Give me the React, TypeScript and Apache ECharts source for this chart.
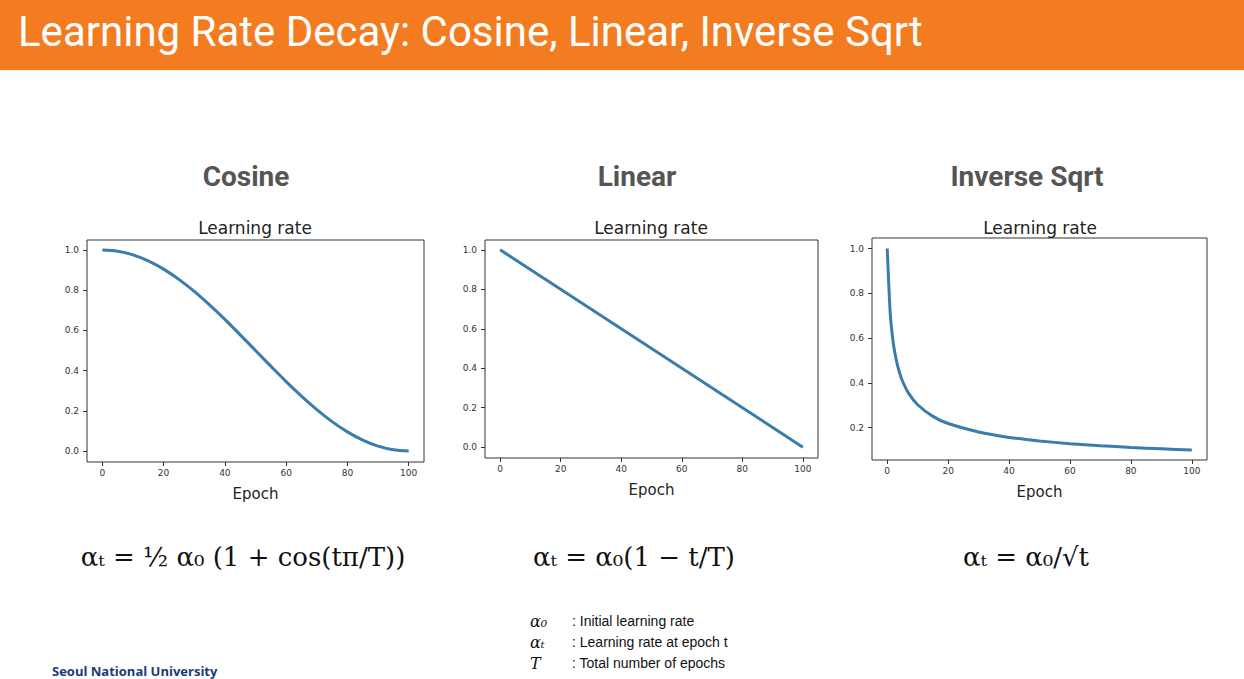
import React, { useRef, useEffect } from 'react'
import * as echarts from 'echarts'

const cosineEpochs = [0, 5, 10, 15, 20, 25, 30, 35, 40, 45, 50, 55, 60, 65, 70, 75, 80, 85, 90, 95, 100]
const cosineValues = [1, 0.994, 0.976, 0.946, 0.905, 0.854, 0.794, 0.727, 0.655, 0.578, 0.5, 0.422, 0.345, 0.273, 0.206, 0.146, 0.095, 0.054, 0.024, 0.006, 0]
const linearEpochs = [0, 100]
const linearValues = [1, 0]
const sqrtEpochs = [0, 1, 2, 3, 4, 5, 7, 10, 15, 20, 30, 40, 50, 60, 70, 80, 90, 100]
const sqrtValues = [1, 0.707, 0.577, 0.5, 0.447, 0.408, 0.354, 0.302, 0.25, 0.218, 0.18, 0.156, 0.14, 0.128, 0.119, 0.111, 0.105, 0.0995]
const xTicks = [0, 20, 40, 60, 80, 100]
const yTicksFull = [0, 0.2, 0.4, 0.6, 0.8, 1.0]
const yTicksSqrt = [0.2, 0.4, 0.6, 0.8, 1.0]
const panelTitles = ['Cosine', 'Linear', 'Inverse Sqrt']

const grids = [
  { left: 87, top: 240, width: 337, height: 222 },
  { left: 485, top: 240, width: 333, height: 218 },
  { left: 872, top: 238, width: 335, height: 222 },
]
const yRanges = [
  [-0.055, 1.05],
  [-0.055, 1.05],
  [0.055, 1.047],
]

const App: React.FC = () => {
  const ref = useRef<HTMLDivElement>(null)

  useEffect(() => {
    document.body.style.margin = '0'
    if (!ref.current) return
    const chart = echarts.init(ref.current, null, { renderer: 'svg' })
    const font = 'DejaVu Sans'
    const lineColor = '#3a7cab'

    const xAxis = grids.map((_, i) => ({
      type: 'value' as const,
      gridIndex: i,
      min: -5,
      max: 105,
      axisLine: { show: false, onZero: false },
      splitLine: { show: false },
      axisTick: { show: true, customValues: xTicks, length: 4, lineStyle: { color: '#333' } },
      axisLabel: { customValues: xTicks, fontSize: 9, color: '#333', fontFamily: font, margin: 6 },
      name: 'Epoch',
      nameLocation: 'middle' as const,
      nameGap: 24,
      nameTextStyle: { fontSize: 15, color: '#222', fontFamily: font },
    }))
    const yAxis = grids.map((_, i) => {
      const ticks = i === 2 ? yTicksSqrt : yTicksFull
      return {
        type: 'value' as const,
        gridIndex: i,
        min: yRanges[i][0],
        max: yRanges[i][1],
        axisLine: { show: false, onZero: false },
        splitLine: { show: false },
        axisTick: { show: true, customValues: ticks, length: 4, lineStyle: { color: '#333' } },
        axisLabel: {
          customValues: ticks,
          fontSize: 9,
          color: '#333',
          fontFamily: font,
          margin: 8,
          formatter: (v: number) => v.toFixed(1),
        },
      }
    })
    const mk = (xs: number[], ys: number[], i: number) => ({
      type: 'line' as const,
      xAxisIndex: i,
      yAxisIndex: i,
      data: xs.map((x, k) => [x, ys[k]]),
      smooth: i === 0 ? 0.3 : i === 2 ? 0.2 : false,
      showSymbol: false,
      lineStyle: { color: lineColor, width: 3 },
    })

    const centers = [255, 651, 1040]
    const graphic: any[] = [
      { type: 'rect', shape: { x: 0, y: 0, width: 1244, height: 70 }, style: { fill: '#f47c20' } },
      {
        type: 'text', left: 18, top: 10,
        style: { text: 'Learning Rate Decay: Cosine, Linear, Inverse Sqrt', fill: '#fff', fontSize: 42, fontFamily: 'Roboto' },
      },
    ]
    panelTitles.forEach((t, i) => {
      graphic.push({
        type: 'text', x: [246, 637, 1027][i], y: 176,
        style: { text: t, fill: '#555', fontSize: 28, fontWeight: 'bold', fontFamily: 'Roboto', align: 'center', verticalAlign: 'middle' },
      })
      graphic.push({
        type: 'text', x: centers[i], y: 228,
        style: { text: 'Learning rate', fill: '#222', fontSize: 17, fontFamily: font, align: 'center', verticalAlign: 'middle' },
      })
    })
    const formulas = ['αₜ = ½ α₀ (1 + cos(tπ/T))', 'αₜ = α₀(1 − t/T)', 'αₜ = α₀/√t']
    const fx = [243, 634, 1026]
    formulas.forEach((f, i) => {
      graphic.push({
        type: 'text', x: fx[i], y: 557,
        style: { text: f, fill: '#111', fontSize: 26, fontFamily: 'DejaVu Serif', align: 'center', verticalAlign: 'middle' },
      })
    })
    const notes = [
      ['α₀', ': Initial learning rate'],
      ['αₜ', ': Learning rate at epoch t'],
      ['T', ': Total number of epochs'],
    ]
    notes.forEach((n, k) => {
      graphic.push({ type: 'text', x: 530, y: 621 + k * 21, style: { text: n[0], fill: '#111', fontSize: 16, fontFamily: 'DejaVu Serif', fontStyle: 'italic', verticalAlign: 'middle' } })
      graphic.push({ type: 'text', x: 572, y: 621 + k * 21, style: { text: n[1], fill: '#111', fontSize: 14, fontFamily: 'Liberation Sans', verticalAlign: 'middle' } })
    })
    graphic.push({ type: 'text', x: 52, y: 664, style: { text: 'Seoul National University', fill: '#1a3a7a', fontSize: 13, fontWeight: 'bold', fontFamily: 'Open Sans' } })

    chart.setOption({
      animation: false,
      backgroundColor: '#ffffff',
      grid: grids.map(g => ({ ...g, show: true, borderColor: '#333', borderWidth: 1, backgroundColor: 'transparent' })),
      xAxis,
      yAxis,
      series: [mk(cosineEpochs, cosineValues, 0), mk(linearEpochs, linearValues, 1), mk(sqrtEpochs, sqrtValues, 2)],
      graphic,
    })
    return () => chart.dispose()
  }, [])

  return <div ref={ref} style={{ width: 1244, height: 679 }} />
}

export default App
